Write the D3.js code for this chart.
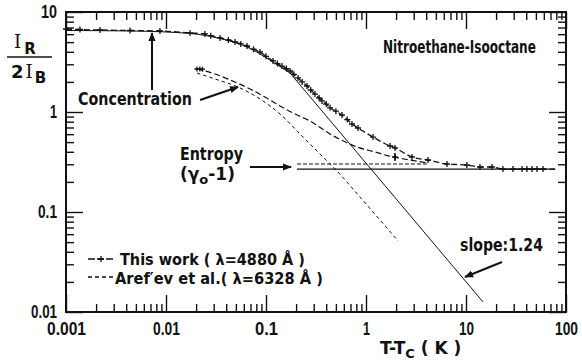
<!DOCTYPE html>
<meta charset="utf-8">
<style>
    body { margin: 0; background: #fff; }
    text {
        font-family: "DejaVu Sans", sans-serif;
        font-weight: bold;
        fill: #111;
    }
    .domain { display: none; }
    .tick line { stroke: #111; stroke-width: 1.4; }
</style>

<script src="https://cdn.jsdelivr.net/npm/d3@7"></script>

<div id="svg-holder"></div>

<script>
    var width = 582;
    var height = 364;
    var margin = {left: 66, top: 12, right: 16, bottom: 52};

    // axis ticks
    var x_major = [0.001, 0.01, 0.1, 1, 10, 100];
    var x_labels = ["0.001", "0.01", "0.1", "1", "10", "100"];
    var y_major = [0.01, 0.1, 1, 10];
    var y_labels = ["0.01", "0.1", "1", "10"];

    // this work (lambda = 4880 A): T-Tc (K), IR/2IB
    var work_t = [0.001, 0.00138, 0.00219, 0.00437, 0.0087, 0.0174, 0.0245, 0.028, 0.0347, 0.042,
                  0.049, 0.056, 0.0646, 0.075, 0.0871, 0.1, 0.1175, 0.13, 0.1445, 0.16, 0.174, 0.19,
                  0.209, 0.23, 0.257, 0.28, 0.309, 0.34, 0.363, 0.4, 0.437, 0.5, 0.575, 0.65, 0.724,
                  0.832, 1.175, 1.74, 1.95, 2.88, 4.17, 6.46, 10.2, 13.8, 18.2, 23.4, 29.5, 36.3,
                  40.7, 45.7, 51.3, 58.9];
    var work_r = [6.76, 6.68, 6.61, 6.53, 6.46, 6.17, 6.03, 5.8, 5.50, 5.25,
                  5.01, 4.8, 4.57, 4.25, 3.98, 3.6, 3.24, 3.05, 2.88, 2.72, 2.57, 2.38,
                  2.19, 2.0, 1.82, 1.66, 1.51, 1.38, 1.29, 1.2, 1.10, 1.02, 0.933, 0.84, 0.759,
                  0.692, 0.562, 0.457, 0.437, 0.355, 0.331, 0.302, 0.295, 0.282, 0.282, 0.269, 0.269, 0.269,
                  0.269, 0.269, 0.269, 0.269];
    var work_end_t = 78;

    // concentration part (solid) and its asymptote, slope 1.24
    var conc_t = [0.001, 0.00437, 0.0174, 0.0347, 0.0646, 0.1175, 0.174];
    var conc_r = [6.53, 6.46, 6.10, 5.43, 4.47, 3.16, 2.45];
    var slope_t = [0.174, 14.8];
    var slope_r = [2.45, 0.0126];

    // entropy (gamma0 - 1), this work (solid) and Aref'ev (dashed)
    var ent_t = [0.204, 77.6];
    var ent_r = [0.269, 0.269];
    var aref_ent_t = [0.204, 4.17];
    var aref_ent_r = [0.302, 0.302];

    // Aref'ev et al. (lambda = 6328 A)
    var aref_t = [0.0204, 0.0309, 0.0437, 0.0692, 0.0977, 0.138, 0.195, 0.275, 0.437, 0.813,
                  1.23, 1.86, 2.75, 4.17];
    var aref_r = [2.69, 2.40, 2.09, 1.70, 1.41, 1.15, 0.955, 0.813, 0.603, 0.447,
                  0.398, 0.355, 0.331, 0.309];
    var aref_pts_t = [0.0204, 0.0218, 0.0232];
    var aref_pts_r = [2.69, 2.69, 2.68];
    var aref_err_t = 1.95;
    var aref_err_r = [0.324, 0.355, 0.389];

    // Aref'ev concentration part
    var arefc_t = [0.0204, 0.0309, 0.055, 0.0871, 0.138, 0.219, 0.347, 0.513, 0.871, 1.38, 2.09];
    var arefc_r = [2.45, 2.14, 1.74, 1.35, 0.955, 0.603, 0.380, 0.257, 0.141, 0.0832, 0.0513];

    // printed widths of the tick labels (the original face is condensed)
    var x_label_w = [39, 27, 23, 7, 15, 23];
    var y_label_w = [26, 19, 7, 16];

    var zip = function(a, b) { return a.map(function(d, i) { return [d, b[i]]; }); };

    // squeeze a text horizontally to a printed width, keeping its anchor point
    function squeeze(node, w) {
        var n = node.getComputedTextLength();
        if (!n || n <= w) return;
        var s = w / n;
        var t = d3.select(node);
        var px = +t.attr("x") || 0;
        t.attr("x", px / s).attr("transform", (t.attr("transform") || "") + " scale(" + s + ",1)");
    }

    var frame = d3.select("#svg-holder").append("svg")
            .attr("width", width).attr("height", height);

    var x = d3.scaleLog().domain([0.001, 100]).range([margin.left, width - margin.right]);
    var y = d3.scaleLog().domain([0.01, 10]).range([height - margin.bottom, margin.top]);
    var x0 = x.range()[0], x1 = x.range()[1], y0 = y.range()[0], y1 = y.range()[1];

    // minor ticks on all four sides, pointing inward
    var sides = [
        [d3.axisBottom(x), "translate(0," + y0 + ")", x],
        [d3.axisTop(x), "translate(0," + y1 + ")", x],
        [d3.axisLeft(y), "translate(" + x0 + ",0)", y],
        [d3.axisRight(y), "translate(" + x1 + ",0)", y]
    ];
    sides.forEach(function(s) {
        var minor = s[2].ticks().filter(function(v) { return x_major.concat(y_major).indexOf(v) < 0; });
        frame.append("g").attr("transform", s[1])
            .call(s[0].tickValues(minor).tickSize(-8).tickFormat(""));
    });

    // major ticks
    frame.append("g").attr("transform", "translate(0," + y0 + ")")
        .call(d3.axisBottom(x).tickValues(x_major).tickSize(-17).tickPadding(6)
            .tickFormat(function(d, i) { return x_labels[i]; }))
        .selectAll("text").attr("font-size", "18px").attr("dy", "0.95em")
        .style("font-family", "inherit")
        .each(function(d, i) { squeeze(this, x_label_w[i]); });
    frame.append("g").attr("transform", "translate(0," + y1 + ")")
        .call(d3.axisTop(x).tickValues(x_major).tickSize(-17).tickFormat(""));
    frame.append("g").attr("transform", "translate(" + x0 + ",0)")
        .call(d3.axisLeft(y).tickValues(y_major).tickSize(-17).tickPadding(9)
            .tickFormat(function(d, i) { return y_labels[i]; }))
        .selectAll("text").attr("font-size", "18px").attr("dy", "0.3em")
        .style("font-family", "inherit")
        .each(function(d, i) { squeeze(this, y_label_w[i]); });
    frame.append("g").attr("transform", "translate(" + x1 + ",0)")
        .call(d3.axisRight(y).tickValues(y_major).tickSize(-17).tickFormat(""));

    // box
    frame.append("rect")
        .attr("x", x0).attr("y", y1).attr("width", x1 - x0).attr("height", y0 - y1)
        .attr("fill", "none").attr("stroke", "#111").attr("stroke-width", 2);

    var line = d3.line().x(function(d) { return x(d[0]); }).y(function(d) { return y(d[1]); });
    var smooth = d3.line().curve(d3.curveMonotoneX)
            .x(function(d) { return x(d[0]); }).y(function(d) { return y(d[1]); });

    var plot = frame.append("g");

    function path(pts, gen, dash, w) {
        plot.append("path").attr("d", gen(pts))
            .attr("fill", "none").attr("stroke", "#111")
            .attr("stroke-width", w).attr("stroke-dasharray", dash);
    }

    function plus(px, py, s) {
        plot.append("path")
            .attr("d", "M" + (px - s) + "," + py + "H" + (px + s) + "M" + px + "," + (py - s) + "V" + (py + s))
            .attr("stroke", "#111").attr("stroke-width", 1.3);
    }

    // concentration curve + asymptote
    path(zip(conc_t, conc_r), smooth, null, 1);
    path(zip(slope_t, slope_r), line, null, 1);

    // entropy levels
    path(zip(ent_t, ent_r), line, null, 1.2);
    path(zip(aref_ent_t, aref_ent_r), line, "4,2", 1.2);

    // Aref'ev curves
    path(zip(aref_t, aref_r), smooth, "6,3", 1.2);
    path(zip(arefc_t, arefc_r), smooth, "3.5,3", 1);
    aref_pts_t.forEach(function(t, i) { plus(x(t), y(aref_pts_r[i]), 2.5); });
    plot.append("line")
        .attr("x1", x(aref_err_t)).attr("x2", x(aref_err_t))
        .attr("y1", y(aref_err_r[0])).attr("y2", y(aref_err_r[2]))
        .attr("stroke", "#111").attr("stroke-width", 1.5);
    plus(x(aref_err_t), y(aref_err_r[1]), 3);

    // this work
    var work = zip(work_t, work_r);
    path(work.concat([[work_end_t, work_r[work_r.length - 1]]]), smooth, "6,3", 1.3);
    work.forEach(function(d) { plus(x(d[0]), y(d[1]), 3); });

    // arrows
    var defs = frame.append("defs");
    defs.append("marker").attr("id", "head")
        .attr("viewBox", "0 0 10 10").attr("refX", 9).attr("refY", 5)
        .attr("markerWidth", 9).attr("markerHeight", 9).attr("markerUnits", "userSpaceOnUse")
        .attr("orient", "auto")
        .append("path").attr("d", "M0,1 L10,5 L0,9 Z").attr("fill", "#111");

    var arrows = [
        [[0.00724, 1.66], [0.00724, 6.17]],
        [[0.0219, 1.32], [0.0525, 1.78]],
        [[0.069, 0.282], [0.178, 0.282]],
        [[22.9, 0.0316], [9.77, 0.0224]]
    ];
    arrows.forEach(function(a) {
        frame.append("line")
            .attr("x1", x(a[0][0])).attr("y1", y(a[0][1]))
            .attr("x2", x(a[1][0])).attr("y2", y(a[1][1]))
            .attr("stroke", "#111").attr("stroke-width", 2)
            .attr("marker-end", "url(#head)");
    });

    // labels
    function label(txt, px, py, w, size) {
        var t = frame.append("text").attr("x", px).attr("y", py)
            .attr("font-size", (size || 18) + "px")
            .text(txt);
        squeeze(t.node(), w);
        return t;
    }
    label("Nitroethane-Isooctane", 383, 53, 153);
    label("Concentration", 78, 105, 114);
    label("Entropy", 180, 160, 63);
    var g = frame.append("text").attr("x", 180).attr("y", 180).attr("font-size", "17px");
    g.append("tspan").text("(γ");
    g.append("tspan").attr("dy", 4).attr("font-size", "13px").text("o");
    g.append("tspan").attr("dy", -4).text("-1)");
    label("slope:1.24", 460, 251, 83);
    label("This work ( λ=4880 Å )", 120, 265, 185, 16);
    label("Aref′ev  et al.( λ=6328 Å )", 115, 284, 208, 16);

    // legend keys
    frame.append("line").attr("x1", 88).attr("x2", 115).attr("y1", 259).attr("y2", 259)
        .attr("stroke", "#111").attr("stroke-width", 1.3).attr("stroke-dasharray", "7,2");
    plus(101, 259, 3);
    frame.append("line").attr("x1", 88).attr("x2", 115).attr("y1", 277).attr("y2", 277)
        .attr("stroke", "#111").attr("stroke-width", 1.3).attr("stroke-dasharray", "4,3");

    // axis title
    var xt = frame.append("text").attr("x", 380).attr("y", 354).attr("font-size", "17px");
    xt.append("tspan").text("T-T");
    xt.append("tspan").attr("dy", 4).attr("font-size", "13px").text("C");
    xt.append("tspan").attr("dy", -4).text(" ( K )");

    // y title: IR / 2IB
    var yt1 = frame.append("text").attr("x", 14).attr("y", 48).attr("font-size", "18px");
    yt1.append("tspan").attr("font-family", "DejaVu Serif").attr("font-weight", "normal").text("I");
    yt1.append("tspan").attr("dx", 3).attr("dy", 6).attr("font-size", "15px").text("R");
    frame.append("line").attr("x1", 7).attr("x2", 52).attr("y1", 57).attr("y2", 57)
        .attr("stroke", "#111").attr("stroke-width", 1.6);
    var yt2 = frame.append("text").attr("x", 11).attr("y", 78).attr("font-size", "18px");
    yt2.append("tspan").text("2");
    yt2.append("tspan").attr("dx", 2).attr("font-family", "DejaVu Serif").attr("font-weight", "normal").text("I");
    yt2.append("tspan").attr("dx", 2).attr("dy", 5).attr("font-size", "15px").text("B");
</script>
